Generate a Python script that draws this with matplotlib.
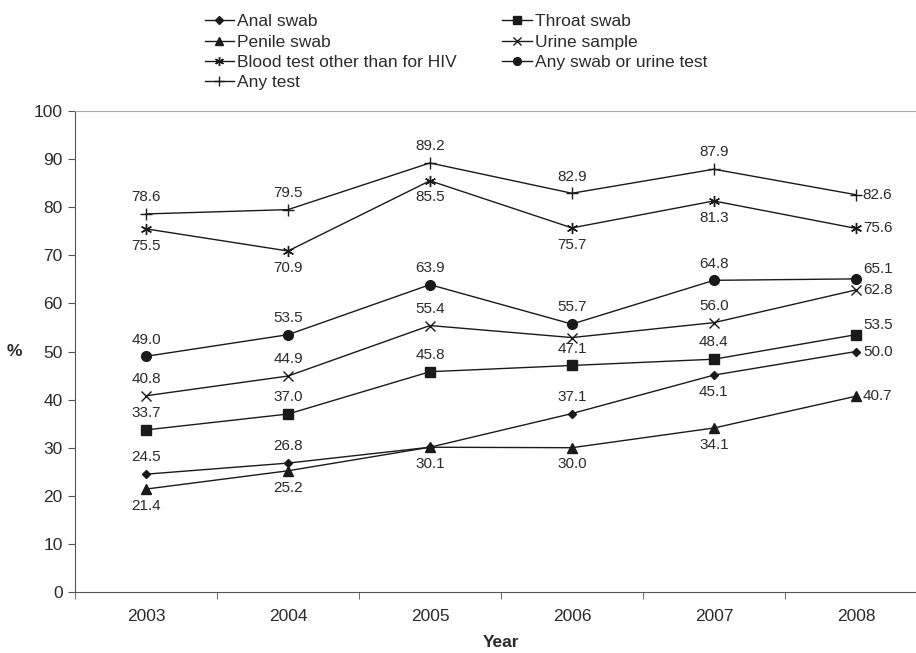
import matplotlib
matplotlib.use("Agg")
import matplotlib.pyplot as plt

plt.rcParams['font.family'] = ['Liberation Sans', 'DejaVu Sans']

years = ["2003", "2004", "2005", "2006", "2007", "2008"]

anal_swab = [24.5, 26.8, 30.1, 37.1, 45.1, 50.0]
throat_swab = [33.7, 37.0, 45.8, 47.1, 48.4, 53.5]
penile_swab = [21.4, 25.2, 30.1, 30.0, 34.1, 40.7]
urine_sample = [40.8, 44.9, 55.4, 52.9, 56.0, 62.8]
blood_test = [75.5, 70.9, 85.5, 75.7, 81.3, 75.6]
any_swab_urine = [49.0, 53.5, 63.9, 55.7, 64.8, 65.1]
any_test = [78.6, 79.5, 89.2, 82.9, 87.9, 82.6]

TXT = '#2b2b2b'

# name, values, marker, marker size, label side per point (a=above, b=below, r=right, None=hidden)
series = [
    ("Anal swab", anal_swab, 'D', 4.5, ['a', 'a', None, 'a', 'b', 'r']),
    ("Throat swab", throat_swab, 's', 7, ['a', 'a', 'a', 'a', 'a', 'ru']),
    ("Penile swab", penile_swab, '^', 7, ['b', 'b', 'b', 'b', 'b', 'r']),
    ("Urine sample", urine_sample, 'x', 7, ['a', 'a', 'a', None, 'a', 'r']),
    ("Blood test other than for HIV", blood_test, (6, 2, 0), 8, ['b', 'b', 'b', 'b', 'b', 'r']),
    ("Any swab or urine test", any_swab_urine, 'o', 7, ['a', 'a', 'a', 'a', 'a', 'ru']),
    ("Any test", any_test, '+', 9, ['a', 'a', 'a', 'a', 'a', 'r']),
]

fig = plt.figure(figsize=(9.16, 6.53), dpi=100)
ax = fig.add_axes([0.0819, 0.0934, 0.93, 0.7366])

x = list(range(len(years)))
handles = {}
for name, vals, mk, ms, sides in series:
    ln, = ax.plot(x, vals, color='#1a1a1a', lw=1.0, marker=mk, markersize=ms,
                  markeredgewidth=1.0, markerfacecolor='#1a1a1a',
                  markeredgecolor='#1a1a1a', label=name)
    handles[name] = ln
    for xi, v, s in zip(x, vals, sides):
        if s is None:
            continue
        if s == 'a':
            off, ha, va = (0, 7), 'center', 'bottom'
        elif s == 'b':
            off, ha, va = (0, -7), 'center', 'top'
        elif s == 'r':
            off, ha, va = (5, 0), 'left', 'center'
        else:
            off, ha, va = (5, 7), 'left', 'center'
        ax.annotate(f"{v:.1f}", (xi, v), xytext=off, textcoords='offset points',
                    ha=ha, va=va, fontsize=11, color=TXT)

ax.set_xlim(-0.5, 5.5)
ax.set_ylim(0, 100)
ax.set_yticks(range(0, 101, 10))
ax.set_xticks(x)
ax.set_xticklabels(years)
ax.set_xticks([i - 0.5 for i in range(len(years))], minor=True)
ax.tick_params(axis='x', which='major', length=0, pad=12, labelsize=12.5, labelcolor=TXT)
ax.tick_params(axis='x', which='minor', length=5, direction='out', color='#555555')
ax.tick_params(axis='y', length=5, direction='out', color='#555555', labelsize=12.5,
               labelcolor=TXT, pad=4)

ax.spines['right'].set_visible(False)
ax.spines['top'].set_color('#aaaaaa')
ax.spines['left'].set_color('#555555')
ax.spines['bottom'].set_color('#555555')

ax.set_ylabel('%', rotation=0, fontsize=12.5, fontweight='bold', color=TXT, labelpad=14,
              va='center')
ax.set_xlabel('Year', fontsize=12.5, fontweight='bold', color=TXT, labelpad=8)

order = ["Anal swab", "Penile swab", "Blood test other than for HIV", "Any test",
         "Throat swab", "Urine sample", "Any swab or urine test"]
fig.legend([handles[n] for n in order], order, ncol=2, frameon=False,
           loc='upper left', bbox_to_anchor=(0.21, 0.997), fontsize=12.5,
           handlelength=1.7, handletextpad=0.2, labelspacing=0.3,
           columnspacing=2.6, labelcolor=TXT, markerscale=0.8,
           borderaxespad=0.3)

fig.savefig('out.png', dpi=100)
